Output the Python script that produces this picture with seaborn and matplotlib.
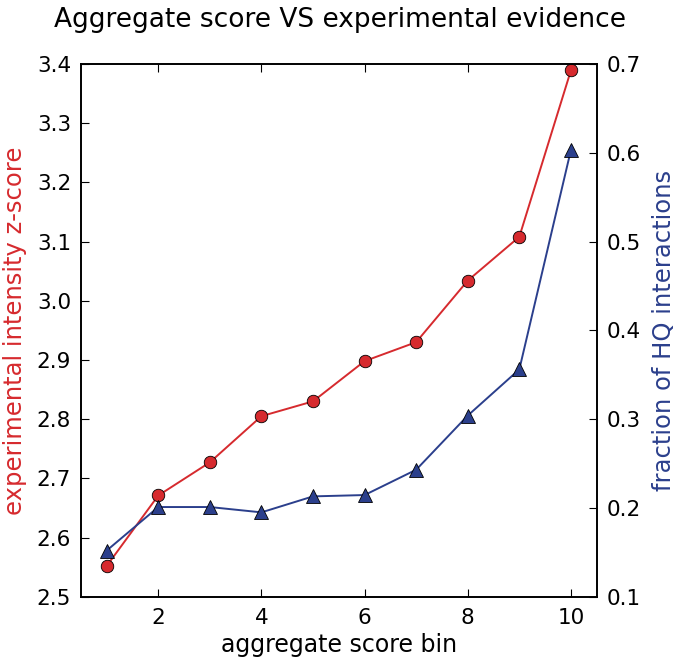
import matplotlib
matplotlib.use("Agg")
import matplotlib.pyplot as plt
import seaborn as sns
import pandas as pd

bins = [1, 2, 3, 4, 5, 6, 7, 8, 9, 10]
zscore = [2.552, 2.671, 2.727, 2.805, 2.830, 2.898, 2.930, 3.034, 3.108, 3.389]
hq_fraction = [0.152, 0.201, 0.201, 0.195, 0.213, 0.2145, 0.243, 0.304, 0.356, 0.603]

title = "Aggregate score VS experimental evidence"
xlabel = "aggregate score bin"
ylabel_left = "experimental intensity z-score"
ylabel_right = "fraction of HQ interactions"

red = "#d62a2e"
blue = "#2b3f8c"

sns.set_style("ticks")
plt.rcParams['font.family'] = ['DejaVu Sans']
plt.rcParams['text.color'] = 'black'
plt.rcParams['axes.labelcolor'] = 'black'
plt.rcParams['xtick.color'] = 'black'
plt.rcParams['ytick.color'] = 'black'
plt.rcParams['xtick.direction'] = 'in'
plt.rcParams['ytick.direction'] = 'in'
plt.rcParams['axes.edgecolor'] = 'black'
plt.rcParams['axes.linewidth'] = 1.2

df = pd.DataFrame({"bin": bins, "z": zscore, "hq": hq_fraction})

fig = plt.figure(figsize=(6.8, 6.59), dpi=100)
ax = fig.add_axes([0.119, 0.0945, 0.7585, 0.8085])
ax2 = ax.twinx()

sns.lineplot(data=df, x="bin", y="z", ax=ax, color=red, marker="o", markersize=9,
             markeredgecolor="black", markeredgewidth=0.6, linewidth=1.4)
sns.lineplot(data=df, x="bin", y="hq", ax=ax2, color=blue, marker="^", markersize=10,
             markeredgecolor="black", markeredgewidth=0.6, linewidth=1.4)

ax.set_xlim(0.5, 10.5)
ax.set_ylim(2.5, 3.4)
ax2.set_ylim(0.1, 0.7)
ax.set_xticks([2, 4, 6, 8, 10])
ax.set_yticks([2.5, 2.6, 2.7, 2.8, 2.9, 3.0, 3.1, 3.2, 3.3, 3.4])
ax2.set_yticks([0.1, 0.2, 0.3, 0.4, 0.5, 0.6, 0.7])
ax.set_yticklabels([f"{v:.1f}" for v in ax.get_yticks()])
ax2.set_yticklabels([f"{v:.1f}" for v in ax2.get_yticks()])

ax.tick_params(axis="x", which="both", top=True, bottom=True, direction="in", length=6,
               labelsize=15.5, pad=8, colors="black")
ax.tick_params(axis="y", direction="in", length=6, labelsize=15.5, pad=7, right=False, colors="black")
ax2.tick_params(axis="y", direction="in", length=6, labelsize=15.5, pad=7, colors="black")

ax.set_xlabel(xlabel, fontsize=17, labelpad=4, color="black")
ax.set_ylabel(ylabel_left, fontsize=17.5, color=red, labelpad=7)
ax2.set_ylabel(ylabel_right, fontsize=17.5, color=blue, labelpad=8)
fig.suptitle(title, fontsize=19, y=0.99, color="black")

for a in (ax, ax2):
    for s in a.spines.values():
        s.set_visible(True)
        s.set_color("black")

fig.savefig("out.png", dpi=100)
